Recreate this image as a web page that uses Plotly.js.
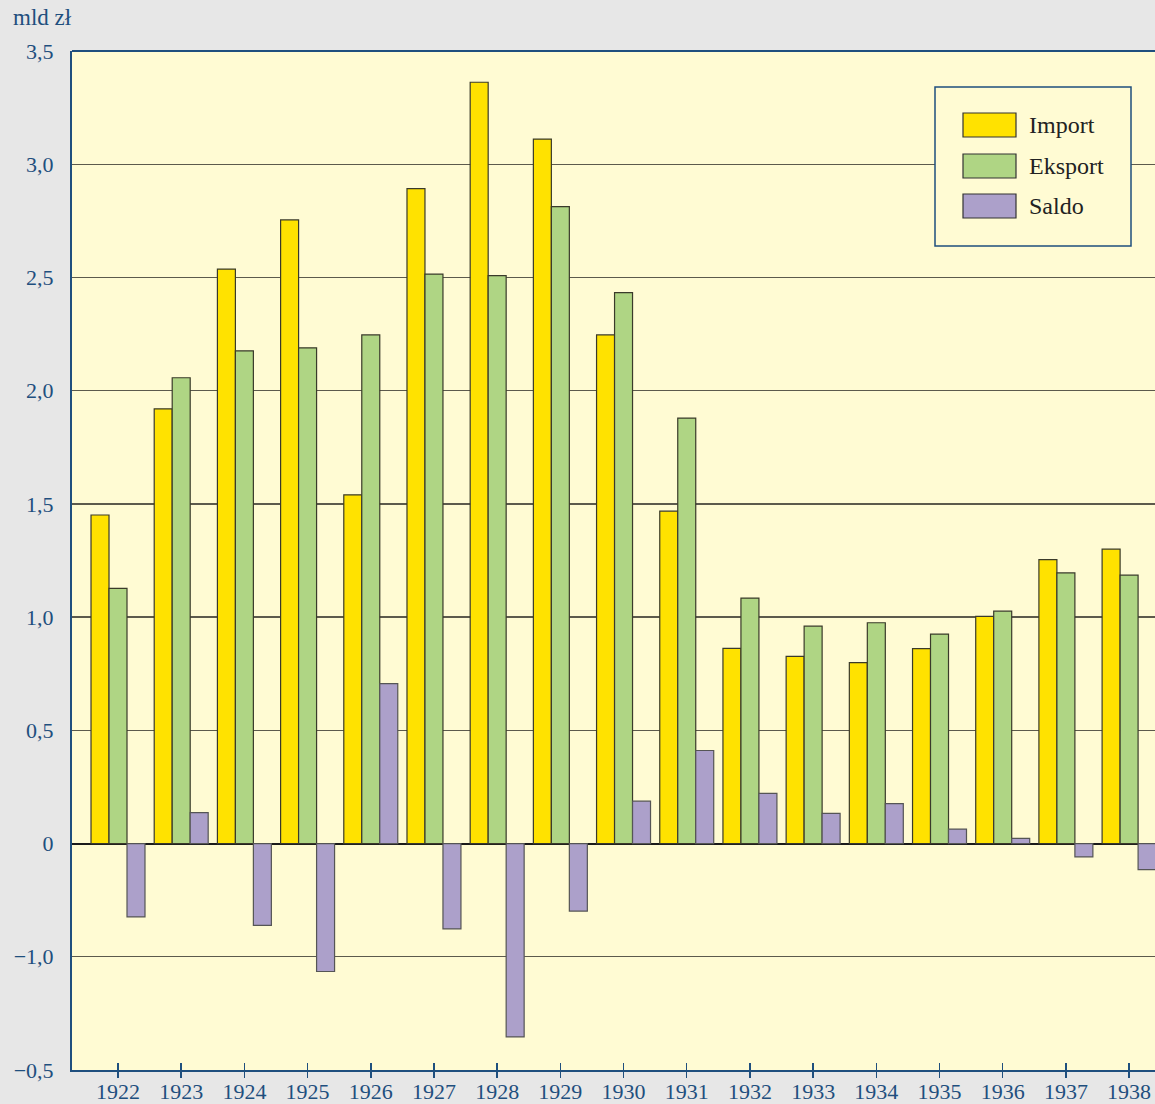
<!DOCTYPE html>
<html>
<head>
<meta charset="utf-8">
<script src="https://cdn.plot.ly/plotly-3.0.1.min.js"></script>
<style>html,body{margin:0;padding:0;background:#e7e7e7;}#chart{width:1155px;height:1104px;}</style>
</head>
<body>
<div id="chart"></div>
<script>
const years = [1922,1923,1924,1925,1926,1927,1928,1929,1930,1931,1932,1933,1934,1935,1936,1937,1938];
const importVals = [1.451,1.920,2.537,2.754,1.540,2.892,3.362,3.111,2.246,1.468,0.862,0.827,0.799,0.861,1.003,1.254,1.300];
const eksportVals = [1.127,2.057,2.176,2.189,2.246,2.515,2.508,2.813,2.433,1.879,1.084,0.960,0.975,0.925,1.026,1.195,1.185];
const saldoVals = [-0.324,0.137,-0.361,-0.565,0.706,-0.377,-0.854,-0.298,0.187,0.411,0.222,0.133,0.176,0.064,0.023,-0.059,-0.115];
const yTickVals = [-1,-0.5,0,0.5,1,1.5,2,2.5,3,3.5];
const yTickText = ['\u22120,5','\u22121,0','0','0,5','1,0','1,5','2,0','2,5','3,0','3,5'];
const seriesNames = ['Import','Eksport','Saldo'];
const seriesColors = ['#ffe200','#afd584','#aca0ca'];
const outline = ['#3a3a2a','#3a3a2a','#555555'];

const blue = '#1f4f7e';
const font = "'Liberation Serif', 'Times New Roman', serif";

const traces = [importVals, eksportVals, saldoVals].map((v,i)=>({
  type:'bar', x:years, y:v, name:seriesNames[i],
  marker:{color:seriesColors[i], line:{color:outline[i], width:1.2}},
  showlegend:false, hoverinfo:'x+y'
}));
// overlay axes that draw the tick marks crossing the x axis line
traces.push({type:'scatter', x:[years[0]], y:[0], xaxis:'x2', mode:'markers', marker:{opacity:0}, showlegend:false, hoverinfo:'skip'});
traces.push({type:'scatter', x:[years[0]], y:[0], xaxis:'x3', mode:'markers', marker:{opacity:0}, showlegend:false, hoverinfo:'skip'});

const L = 72, T = 51, W = 1083, H = 1019;
const px = x => (x-L)/W, py = y => (T+H-y)/H;
const shapes = [
  {type:'line', xref:'paper', yref:'paper', x0:0, x1:1, y0:1, y1:1, line:{color:blue, width:2}, layer:'above'},
  {type:'rect', xref:'paper', yref:'paper', x0:px(935), x1:px(1131), y0:py(246), y1:py(87), fillcolor:'#fffbd3', line:{color:blue, width:1.5}, layer:'above'}
];
const annotations = [
  {xref:'paper', yref:'paper', x:px(11), y:py(18), xanchor:'left', yanchor:'middle', text:'mld zł', showarrow:false, font:{family:font, size:23, color:blue}}
];
const swY = [[113,137],[154,178],[194,218]];
seriesNames.forEach((n,i)=>{
  shapes.push({type:'rect', xref:'paper', yref:'paper', x0:px(963), x1:px(1016), y0:py(swY[i][1]), y1:py(swY[i][0]), fillcolor:seriesColors[i], line:{color:'#333', width:1.2}, layer:'above'});
  annotations.push({xref:'paper', yref:'paper', x:px(1027), y:py((swY[i][0]+swY[i][1])/2), xanchor:'left', yanchor:'middle', text:n, showarrow:false, font:{family:font, size:24, color:'#222'}});
});

const xr = [1921.272, 1938.41];
const tickAxis = side => ({range:xr, overlaying:'x', side:'bottom', tickvals:years, showticklabels:false, showgrid:false, zeroline:false,
    showline:false, ticks:side, ticklen:7, tickwidth:1.5, tickcolor:blue});
const layout = {
  width:1155, height:1104,
  margin:{l:L, r:0, t:T, b:1104-T-H},
  paper_bgcolor:'#e7e7e7', plot_bgcolor:'#fffbd3',
  barmode:'group', bargap:0.146, bargroupgap:0,
  font:{family:font, color:blue, size:21},
  xaxis:{range:xr, tickvals:years, ticktext:years.map(String), showgrid:false, zeroline:false,
    showline:true, linecolor:blue, linewidth:2, ticks:'',
    ticklabelstandoff:1, tickfont:{family:font, size:22, color:blue}},
  xaxis2:tickAxis('outside'),
  xaxis3:tickAxis('inside'),
  yaxis:{range:[-1,3.5], tickvals:yTickVals, ticktext:yTickText, showgrid:true, gridcolor:'#5c5a4c', gridwidth:1.3,
    zeroline:true, zerolinecolor:'#1a1a1a', zerolinewidth:2,
    showline:true, linecolor:blue, linewidth:2, ticks:'', ticklabelstandoff:12,
    tickfont:{family:font, size:22, color:blue}},
  shapes:shapes, annotations:annotations
};
Plotly.newPlot('chart', traces, layout, {displayModeBar:false, staticPlot:true});
</script>
</body>
</html>
